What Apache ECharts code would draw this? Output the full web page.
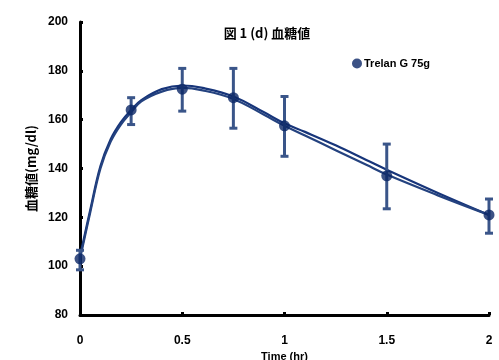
<!DOCTYPE html>
<html><head><meta charset="utf-8">
<script src="https://cdn.jsdelivr.net/npm/echarts@6/dist/echarts.min.js"></script>
<style>html,body{margin:0;padding:0;background:#fff}#c{width:499px;height:360px}</style>
</head><body><div id="c"></div>
<script>
// Observed data
const times = [0, 0.25, 0.5, 0.75, 1, 1.5, 2];
const meanVals = [103, 164, 172.5, 169, 157.5, 137, 121];
const errHigh = [106.5, 169, 181, 181, 169.5, 150, 127.5];
const errLow = [98.5, 158, 163.5, 156.5, 145, 123.5, 113.5];
// Fitted curves
const fitTimes = [0, 0.05, 0.1, 0.15, 0.2, 0.25, 0.3, 0.4, 0.5, 0.6, 0.75, 0.9, 1.0, 1.1, 1.25, 1.4, 1.5, 1.75, 2.0];
const fitA = [104, 123, 141, 152, 159, 164, 168, 172.5, 174, 173, 169.5, 163, 158.5, 155, 149.5, 143.5, 139.5, 130, 121];
const fitB = [103, 122, 140, 151, 158, 163, 167.5, 171.5, 173, 172, 168.5, 162, 157.5, 153.5, 147.5, 141.5, 137.5, 129, 121];
const xTicks = ['0', '0.5', '1', '1.5', '2'];
const yTicks = [80, 100, 120, 140, 160, 180, 200];

const navy = '#0b2766';
const font = 'Liberation Sans, Arial, sans-serif';
const chart = echarts.init(document.getElementById('c'), null, {renderer: 'canvas'});
chart.setOption({
  animation: false,
  backgroundColor: '#fff',
  title: {text: '図 1 (d) 血糖値', left: 262, top: 22, textAlign: 'center',
    textStyle: {fontSize: 13, fontWeight: 'bold', color: '#000', fontFamily: 'Noto Sans CJK JP, sans-serif'}},
  legend: {data: [{name: 'Trelan G 75g', icon: 'circle'}], left: 347, top: 53, itemWidth: 10, itemHeight: 10, itemGap: 2,
    textStyle: {fontSize: 11, fontWeight: 'bold', color: '#000', fontFamily: font, padding: [0,0,0,-3]}},
  grid: {left: 80, right: 10, top: 22, bottom: 45, containLabel: false, outerBoundsMode: 'none'},
  xAxis: {type: 'value', min: 0, max: 2, interval: 0.5,
    name: 'Time (hr)', nameLocation: 'middle', nameGap: 36,
    nameTextStyle: {fontSize: 11, fontWeight: 'bold', color: '#000', fontFamily: font},
    axisLine: {lineStyle: {color: '#000', width: 3}},
    axisTick: {inside: true, length: 3, lineStyle: {color: '#000', width: 3}},
    axisLabel: {fontSize: 12, fontWeight: 'bold', color: '#000', fontFamily: font, margin: 20,
      formatter: v => xTicks[Math.round(v / 0.5)]},
    splitLine: {show: false}},
  yAxis: {type: 'value', min: yTicks[0], max: yTicks[yTicks.length-1], interval: 20,
    name: '血糖値(mg/dl)', nameLocation: 'middle', nameGap: 34, nameRotate: 90,
    nameTextStyle: {fontSize: 13, fontWeight: 'bold', color: '#000', fontFamily: 'Noto Sans CJK JP, sans-serif'},
    axisLine: {show: true, lineStyle: {color: '#000', width: 3}},
    axisTick: {show: true, inside: true, length: 3, lineStyle: {color: '#000', width: 3}},
    axisLabel: {fontSize: 12, fontWeight: 'bold', color: '#000', fontFamily: font, margin: 12},
    splitLine: {show: false}},
  series: [
    {type: 'line', name: 'fitA', data: fitTimes.map((t,i)=>[t, fitA[i]]), smooth: 0.4, symbol: 'none',
      lineStyle: {color: '#17357a', width: 2.2}, z: 2},
    {type: 'line', name: 'fitB', data: fitTimes.map((t,i)=>[t, fitB[i]]), smooth: 0.4, symbol: 'none',
      lineStyle: {color: '#24427f', width: 2.2}, z: 2},
    {type: 'custom', name: 'err', data: times.map((t,i)=>[t, errLow[i], errHigh[i]]), z: 3,
      renderItem: function(params, api){
        const x = api.value(0);
        const lo = api.coord([x, api.value(1)]);
        const hi = api.coord([x, api.value(2)]);
        const w = 4;
        const st = {stroke: '#3a5589', lineWidth: 3};
        return {type: 'group', children: [
          {type: 'line', shape: {x1: lo[0], y1: lo[1], x2: hi[0], y2: hi[1]}, style: st},
          {type: 'line', shape: {x1: lo[0]-w, y1: lo[1], x2: lo[0]+w, y2: lo[1]}, style: st},
          {type: 'line', shape: {x1: hi[0]-w, y1: hi[1], x2: hi[0]+w, y2: hi[1]}, style: st}
        ]};
      }},
    {type: 'scatter', name: 'Trelan G 75g', data: times.map((t,i)=>[t, meanVals[i]]), symbol: 'circle', symbolSize: 11,
      itemStyle: {color: navy}, z: 4}
  ]
});
</script></body></html>
